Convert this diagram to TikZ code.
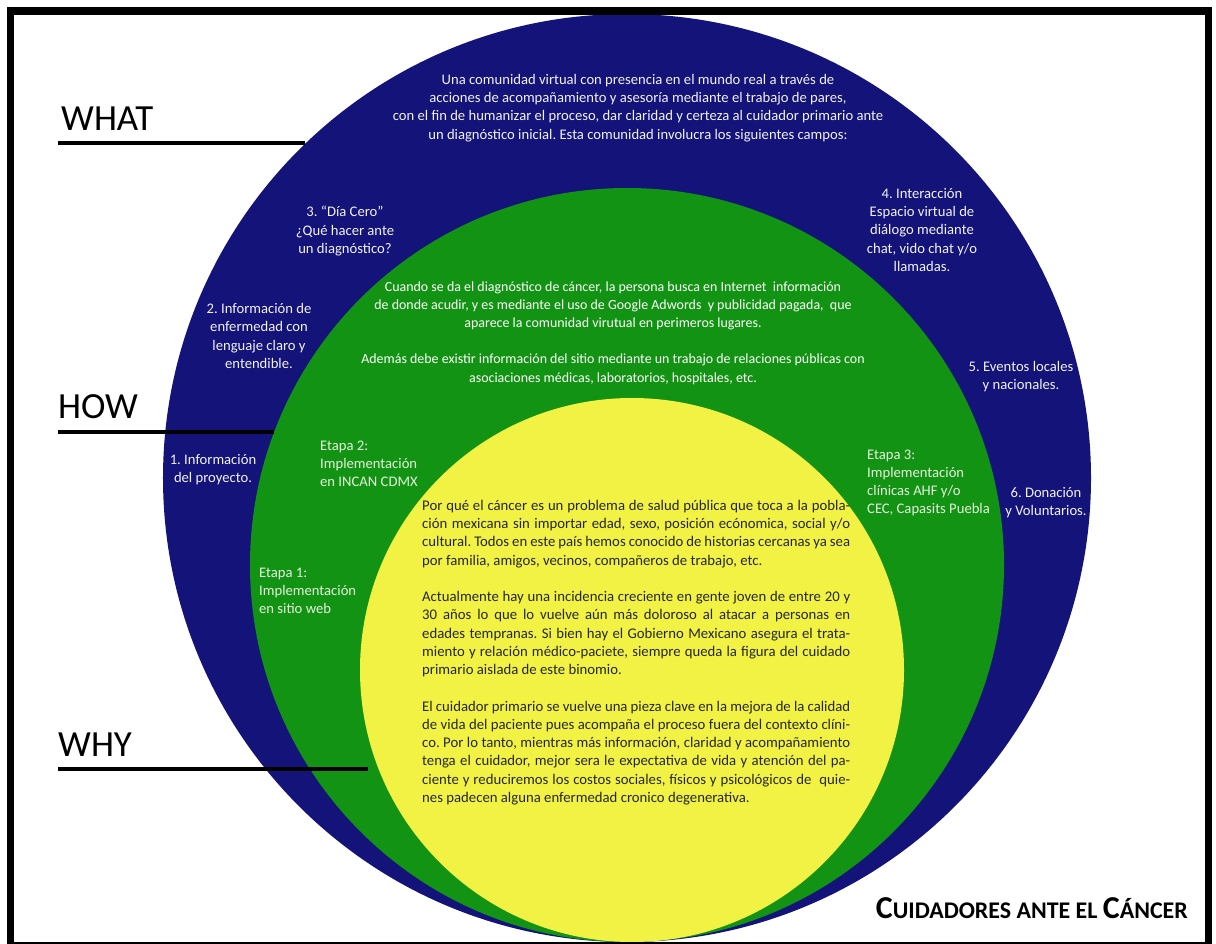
\documentclass[tikz,border=0pt]{standalone}
\usepackage{fontspec}
\setmainfont{Carlito}
\frenchspacing
\definecolor{navy}{HTML}{13137A}
\definecolor{grn}{HTML}{139313}
\definecolor{ylw}{HTML}{F2F244}
\definecolor{lighttxt}{HTML}{F2F2F2}
\definecolor{greentxt}{HTML}{E4F2DC}
\definecolor{darktxt}{HTML}{262626}
\begin{document}
\begin{tikzpicture}[x=1bp,y=-1bp,
  lbl/.style={font=\fontsize{14.7}{18.2}\selectfont, inner sep=0pt, align=center, text=lighttxt},
  etapa/.style={font=\fontsize{14.7}{18.2}\selectfont, inner sep=0pt, align=left, text=greentxt, anchor=west},
  head/.style={font=\fontsize{37}{37}\selectfont, inner sep=0pt, anchor=base west, text=black},
  rule/.style={line width=3.5bp, draw=black},
  para/.style={font=\fontsize{14.8}{18.3}\selectfont, inner sep=0pt}]
\useasboundingbox (0,0) rectangle (1216,944);
\fill[white] (0,0) rectangle (1216,944);
% rings
\fill[navy] (627,478) circle[radius=464bp];
\fill[grn] (627,565) circle[radius=377bp];
\fill[ylw] (632,670) circle[radius=272bp];
% frame
\draw[line width=7.5bp] (10.5,11) rectangle (1208.5,945.5);
% headings and rules
\node[head] (what) at (61,130) {WHAT};
\node[head] (how) at (58,418) {HOW};
\node[head] (why) at (58,756) {WHY};
\coordinate (whatL) at (58,143); \coordinate (whatR) at (305,143);
\coordinate (howL) at (58,432);  \coordinate (howR) at (274,432);
\coordinate (whyL) at (58,769);  \coordinate (whyR) at (368,769);
\draw[rule] (whatL) -- (whatR);
\draw[rule] (howL) -- (howR);
\draw[rule] (whyL) -- (whyR);
% blue paragraph
\node[lbl] (bluepar) at (638,108) {Una comunidad virtual con presencia en el mundo real a través de\\
acciones de acompañamiento y asesoría mediante el trabajo de pares,\\
con el fin de humanizar el proceso, dar claridad y certeza al cuidador primario ante\\
un diagnóstico inicial. Esta comunidad involucra los siguientes campos:};
% blue labels
\node[lbl] (l3) at (345,231) {3. “Día Cero”\\ ¿Qué hacer ante\\ un diagnóstico?};
\node[lbl] (l2) at (259,336) {2. Información de\\ enfermedad con\\ lenguaje claro y\\ entendible.};
\node[lbl] (l1) at (213,470) {1. Información\\ del proyecto.};
\node[lbl] (l4) at (922,230) {4. Interacción\\ Espacio virtual de\\ diálogo mediante\\ chat, vido chat y/o\\ llamadas.};
\node[lbl] (l5) at (1021,377) {5. Eventos locales\\ y nacionales.};
\node[lbl] (l6) at (1046,503) {6. Donación\\ y Voluntarios.};
% green paragraph
\node[lbl, font=\fontsize{14}{18.2}\selectfont, text=white] (greenpar) at (613,333) {Cuando se da el diagnóstico de cáncer, la persona busca en Internet\ \ información\\
de donde acudir, y es mediante el uso de Google Adwords\ \ y publicidad pagada,\ \ que\\
aparece la comunidad virutual en perimeros lugares.\\[18.2bp]
Además debe existir información del sitio mediante un trabajo de relaciones públicas con\\
asociaciones médicas, laboratorios, hospitales, etc.};
% etapas
\node[etapa] (e2) at (320,464) {Etapa 2:\\ Implementación\\ en INCAN CDMX};
\node[etapa] (e1) at (259,591) {Etapa 1:\\ Implementación\\ en sitio web};
\node[etapa] (e3) at (867,483) {Etapa 3:\\ Implementación\\ clínicas AHF y/o\\ CEC, Capasits Puebla};
% yellow paragraph
\node[para, text=darktxt, text width=428bp, align=justify, anchor=north west] (yellowpar) at (422,500) {%
Por qué el cáncer es un problema de salud pública que toca a la pobla-\linebreak
ción mexicana sin importar edad, sexo, posición ecónomica, social y/o\linebreak
cultural. Todos en este país hemos conocido de historias cercanas ya sea\linebreak
por familia, amigos, vecinos, compañeros de trabajo, etc.\par\vspace{18.3bp}
Actualmente hay una incidencia creciente en gente joven de entre 20 y\linebreak
30 años lo que lo vuelve aún más doloroso al atacar a personas en\linebreak
edades tempranas. Si bien hay el Gobierno Mexicano asegura el trata-\linebreak
miento y relación médico-paciete, siempre queda la figura del cuidado\linebreak
primario aislada de este binomio.\par\vspace{18.3bp}
El cuidador primario se vuelve una pieza clave en la mejora de la calidad\linebreak
de vida del paciente pues acompaña el proceso fuera del contexto clíni-\linebreak
co. Por lo tanto, mientras más información, claridad y acompañamiento\linebreak
tenga el cuidador, mejor sera le expectativa de vida y atención del pa-\linebreak
ciente y reduciremos los costos sociales, físicos y psicológicos de\ \ quie-\linebreak
nes padecen alguna enfermedad cronico degenerativa.};
% title
\node[inner sep=0pt, anchor=base east, font=\bfseries] (title) at (1188,918)
  {\fontsize{32}{32}\selectfont C\fontsize{24}{24}\selectfont UIDADORES ANTE EL \fontsize{32}{32}\selectfont C\fontsize{24}{24}\selectfont ÁNCER};
\end{tikzpicture}
\end{document}
